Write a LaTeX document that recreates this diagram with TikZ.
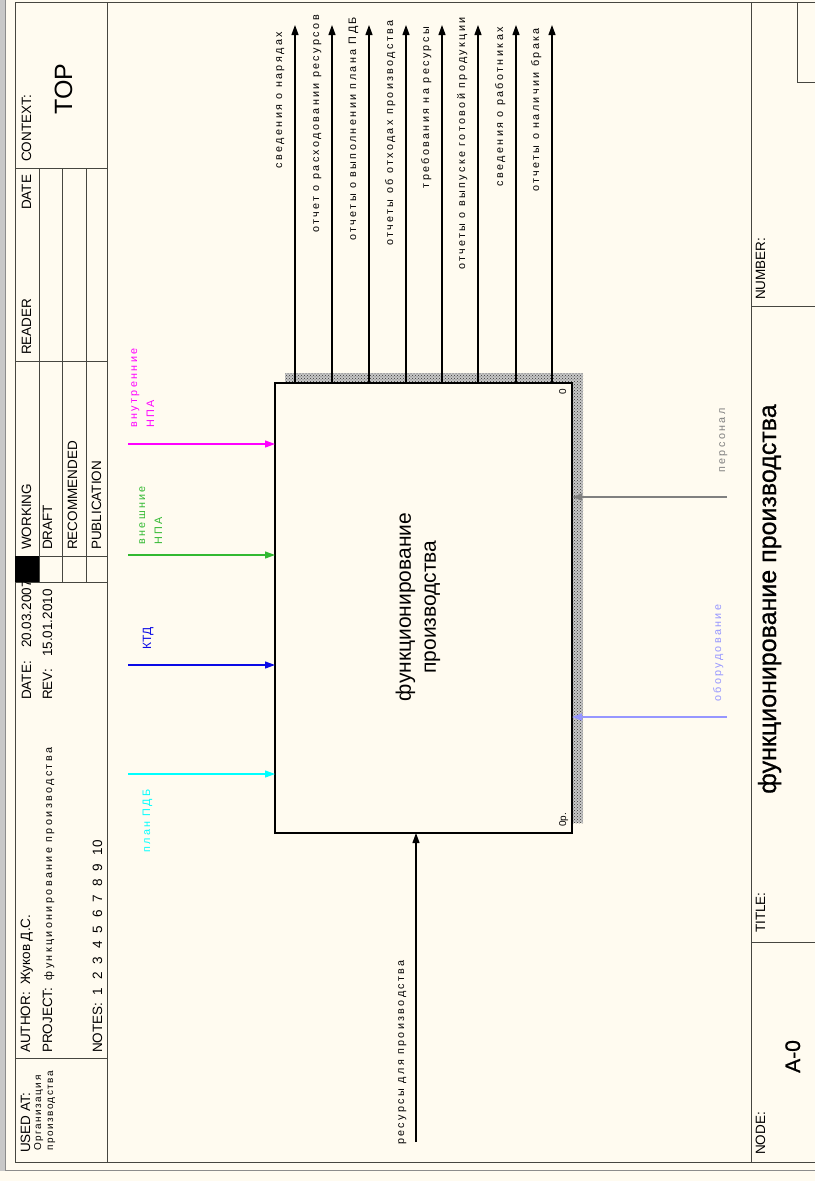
\documentclass[tikz,border=0pt]{standalone}
\usepackage{fontspec}
\setmainfont{Liberation Sans}
\newfontfamily\spc[LetterSpace=22]{Liberation Sans}
\newfontfamily\spcb[LetterSpace=15]{Liberation Sans}
\newfontfamily\heavy[FakeBold=0.8]{Liberation Sans}
\usetikzlibrary{arrows.meta,patterns}
\definecolor{bg}{RGB}{255,251,240}
\definecolor{frame}{RGB}{70,70,64}
\definecolor{cmag}{RGB}{255,0,255}
\definecolor{cgreen}{RGB}{50,185,50}
\definecolor{cblue}{RGB}{10,10,230}
\definecolor{ccyan}{RGB}{0,255,255}
\definecolor{cgray}{RGB}{128,128,128}
\definecolor{cmech}{RGB}{150,150,255}
\definecolor{winedge}{RGB}{200,200,200}
\begin{document}
\begin{tikzpicture}[x=1pt,y=-1pt,
  frm/.style={draw=frame, line width=0.9pt},
  hd/.style={font=\fontsize{13.5}{16}\selectfont, rotate=90, inner sep=0pt},
  sp/.style={font=\spc\fontsize{10.8}{12}\selectfont, rotate=90, inner sep=0pt},
  spb/.style={font=\spcb\fontsize{10}{12}\selectfont, rotate=90, inner sep=0pt},
  arr/.style={line width=1.2pt, -{Triangle[length=10pt,width=7pt]}},
]
\useasboundingbox (0,0) rectangle (815,1181);
\fill[bg] (0,0) rectangle (815,1181);
% window edges
\fill[winedge] (0,0) rectangle (6,1171);
\draw[black!45, line width=1pt] (5,0) -- (5,1170) -- (815,1170);
% outer frame
\draw[frm] (815,2) -- (15,2) -- (15,1162) -- (815,1162);
\draw[frm] (107,2) -- (107,1162);
\draw[frm] (15,168) -- (107,168);
\draw[frm] (15,361) -- (107,361);
\draw[frm] (15,556) -- (107,556);
\draw[frm] (15,582) -- (107,582);
\draw[frm] (15,1058) -- (107,1058);
\draw[frm] (39,168) -- (39,582);
\draw[frm] (62,168) -- (62,582);
\draw[frm] (86,168) -- (86,582);
\fill[black] (15,556) rectangle (39,582);
% title strip
\draw[frm] (751,2) -- (751,1162);
\draw[frm] (751,306) -- (815,306);
\draw[frm] (751,942) -- (815,942);
\draw[frm] (797,2) -- (797,82) -- (815,82);
% header texts
\node[hd, anchor=base west] (usedat) at (30,1153) {USED AT:};
\node[spb, anchor=base west] (org1) at (41,1151) {Организация};
\node[spb, anchor=base west] (org2) at (53,1151) {производства};
\node[hd, anchor=base west] (author) at (30,1053) {AUTHOR:\ \ Жуков\ Д.С.};
\node[hd, anchor=base west] (project) at (52,1053) {PROJECT:\ \ {\spc\fontsize{10.8}{12}\selectfont функционирование производства}};
\node[hd, anchor=base west] (notes) at (102,1053) {NOTES:\ \ 1\hspace{8pt}2\hspace{8pt}3\hspace{8pt}4\hspace{8pt}5\hspace{8pt}6\hspace{8pt}7\hspace{8pt}8\hspace{8pt}9\hspace{8pt}10};
\node[hd, anchor=base west] (date) at (31,700) {DATE:};
\node[hd, anchor=base west] (dateval) at (31,648) {20.03.2007};
\node[hd, anchor=base west] (rev) at (52,700) {REV:};
\node[hd, anchor=base west] (revval) at (52,657) {15.01.2010};
\node[hd, anchor=base west] (working) at (31,550) {WORKING};
\node[hd, anchor=base west] (draft) at (52,550) {DRAFT};
\node[hd, anchor=base west] (recom) at (77,550) {RECOMMENDED};
\node[hd, anchor=base west] (publ) at (101,550) {PUBLICATION};
\node[hd, anchor=base west] (reader) at (31,355) {READER};
\node[hd, anchor=base west] (date2) at (31,210) {DATE};
\node[hd, anchor=base west] (context) at (31,162) {CONTEXT:};
\node[hd, anchor=base west, font=\fontsize{25}{28}\selectfont] (top) at (72,115) {TOP};
% title strip texts
\node[hd, anchor=base west] (number) at (765,300) {NUMBER:};
\node[hd, anchor=base west] (titlel) at (765,933) {TITLE:};
\node[hd, anchor=base west] (nodel) at (765,1155) {NODE:};
\node[hd, anchor=base west, font=\heavy\fontsize{21}{24}\selectfont] (nodeval) at (800,1073) {A-0};
\node[hd, anchor=base, font=\heavy\fontsize{25}{28}\selectfont] (title) at (776,599) {функционирование производства};
% shadow + box
\fill[black!22] (285,373) rectangle (583,823);
\fill[pattern=crosshatch dots, pattern color=black!80] (285,373) rectangle (583,823);
\node[draw, line width=2.4pt, fill=bg, minimum width=297pt, minimum height=450pt, inner sep=0pt, outer sep=0pt, anchor=north west] (box) at (275,383) {};
\node[rotate=90, align=center, font=\fontsize{21}{25}\selectfont, inner sep=0pt] (ftext) at (418,607) {функционирование\\производства};
\node[rotate=90, anchor=base, inner sep=0pt, font=\fontsize{10}{12}\selectfont] (n0) at (566,392) {0};
\node[rotate=90, anchor=base west, inner sep=0pt, font=\fontsize{10}{12}\selectfont] (n0r) at (566,827) {0р.};
% outputs
\foreach \i/\x/\ye/\t in {1/295/32/сведения о нарядах,2/332/15/отчет о расходовании ресурсов,3/369/17/отчеты о выполнении плана ПДБ,4/406/20/отчеты об отходах производства,5/442/27/требования на ресурсы,6/478/17/отчеты о выпуске готовой продукции,7/516/27/сведения о работниках,8/552/28/отчеты о наличии брака}{
  \coordinate (o\i) at (\x,25);
  \draw[arr] (o\i |- box.north) -- (o\i);
  \node[sp, anchor=base east] (lo\i) at (\x-13,\ye) {\t};
}
% controls (left)
\coordinate (c1) at (128,444);
\coordinate (c2) at (128,555);
\coordinate (c3) at (128,665);
\coordinate (c4) at (128,774);
\draw[arr, cmag] (c1) -- (c1 -| box.west);
\draw[arr, cgreen] (c2) -- (c2 -| box.west);
\draw[arr, cblue] (c3) -- (c3 -| box.west);
\draw[arr, ccyan] (c4) -- (c4 -| box.west);
\node[sp, anchor=base west, text=cmag] (lc1a) at (137,428) {внутренние};
\node[sp, anchor=base west, text=cmag] (lc1b) at (154,428) {НПА};
\node[sp, anchor=base west, text=cgreen] (lc2a) at (145,545) {внешние};
\node[sp, anchor=base west, text=cgreen] (lc2b) at (162,545) {НПА};
\node[sp, anchor=base west, text=cblue, font=\fontsize{12}{14}\selectfont] (lc3) at (151,650) {КТД};
\node[sp, anchor=base west, text=ccyan] (lc4) at (150,853) {план ПДБ};
% input (bottom)
\coordinate (i1) at (416,1142);
\draw[arr] (i1) -- (i1 |- box.south);
\node[sp, anchor=base west] (li1) at (404,1145) {ресурсы для производства};
% mechanisms (right)
\coordinate (m1) at (727,497);
\coordinate (m2) at (727,717);
\draw[arr, cgray] (m1) -- (m1 -| box.east);
\draw[arr, cmech] (m2) -- (m2 -| box.east);
\node[sp, anchor=base west, text=cgray] (lm1) at (725,473) {персонал};
\node[sp, anchor=base west, text=cmech] (lm2) at (721,702) {оборудование};
\end{tikzpicture}
\end{document}
